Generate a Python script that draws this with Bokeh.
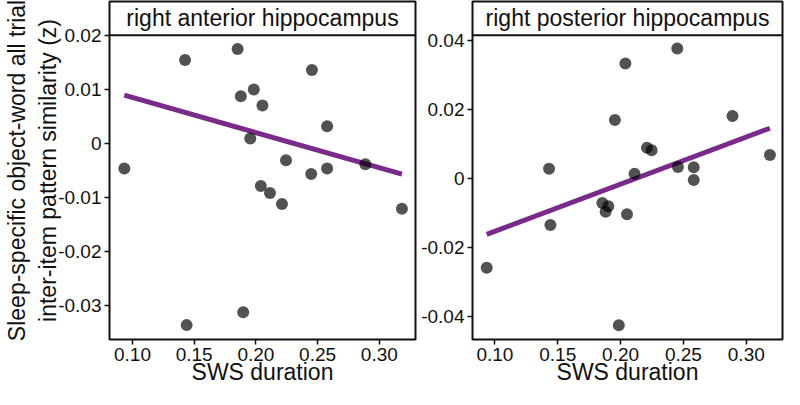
from bokeh.plotting import figure
from bokeh.layouts import row
from bokeh.models import FixedTicker, Span, Label, Range1d
from bokeh.embed import file_html
from bokeh.resources import INLINE

# ---------------- data ----------------
ant_sws = [0.0934, 0.1426, 0.1439, 0.1852, 0.1878, 0.1897, 0.1954, 0.1983, 0.2040, 0.2053,
           0.2114, 0.2211, 0.2244, 0.2448, 0.2454, 0.2577, 0.2577, 0.2887, 0.3183]
ant_sim = [-0.00466, 0.0154, -0.03364, 0.01744, 0.00871, -0.03125, 0.0009, 0.00997, -0.00789, 0.00699,
           -0.00918, -0.01124, -0.00312, -0.00568, 0.01355, 0.00315, -0.00466, -0.00389, -0.01213]
ant_fit_x = [0.0934, 0.3183]
ant_fit_y = [0.0089, -0.0057]

post_sws = [0.0935, 0.1431, 0.1442, 0.1855, 0.1881, 0.1902, 0.1955, 0.1986, 0.2038, 0.2051,
            0.2111, 0.2210, 0.2247, 0.2451, 0.2456, 0.2582, 0.2582, 0.2890, 0.3188]
post_sim = [-0.02588, 0.00281, -0.0135, -0.00712, -0.00965, -0.00805, 0.01688, -0.04248, 0.03319, -0.01041,
            0.00132, 0.00883, 0.00816, 0.03752, 0.00329, 0.00321, -0.00045, 0.0180, 0.00675]
post_fit_x = [0.0935, 0.3188]
post_fit_y = [-0.0162, 0.0145]

x_ticks = [0.10, 0.15, 0.20, 0.25, 0.30]
x_tick_labels = ["0.10", "0.15", "0.20", "0.25", "0.30"]
ant_y_ticks = [-0.03, -0.02, -0.01, 0.0, 0.01, 0.02]
ant_y_labels = ["-0.03", "-0.02", "-0.01", "0", "0.01", "0.02"]
post_y_ticks = [-0.04, -0.02, 0.0, 0.02, 0.04]
post_y_labels = ["-0.04", "-0.02", "0", "0.02", "0.04"]

titles = ["right anterior hippocampus", "right posterior hippocampus"]
x_label = "SWS duration"
y_label_lines = ["Sleep-specific object-word all trial", "inter-item pattern similarity (z)"]

FONT = "Liberation Sans"
PURPLE = "#792A8A"
INK = "#111111"
H = 389
W1, W2 = 418, 366
MB_TOP, MB_BOTTOM = 1, 50
EXPECTED_BOTTOM = 57     # bottom border Bokeh uses for ticks + x title
STRIP_PX = 33


def panel(width, mbl, mbr, xr, yr, xs, ys, fx, fy, yt, yl, title, ylab_lines):
    frame_h = H - MB_TOP - EXPECTED_BOTTOM
    plot_px = frame_h - STRIP_PX
    y0, y1 = yr
    strip = (y1 - y0) / plot_px * STRIP_PX
    p = figure(width=width, height=H, x_range=Range1d(*xr), y_range=Range1d(y0, y1 + strip),
               output_backend="svg", toolbar_location=None, title=None,
               min_border_left=mbl, min_border_right=mbr,
               min_border_top=MB_TOP, min_border_bottom=MB_BOTTOM)
    p.background_fill_color = "white"
    p.border_fill_color = "white"
    p.outline_line_color = INK
    p.outline_line_width = 2
    p.grid.visible = False

    p.line(fx, fy, line_color=PURPLE, line_width=5)
    p.scatter(xs, ys, size=12, fill_color="black", fill_alpha=0.68, line_color=None)

    # facet strip
    p.add_layout(Span(location=y1, dimension="width", line_color=INK, line_width=2))
    p.add_layout(Label(x=(xr[0] + xr[1]) / 2, y=y1 + strip / 2, text=title,
                       text_align="center", text_baseline="middle",
                       text_font=FONT, text_font_size="23px", text_color=INK))

    p.xaxis.ticker = FixedTicker(ticks=x_ticks)
    p.xaxis.major_label_overrides = {t: l for t, l in zip(x_ticks, x_tick_labels)}
    p.yaxis.ticker = FixedTicker(ticks=yt)
    p.yaxis.major_label_overrides = {t: l for t, l in zip(yt, yl)}
    p.xaxis.axis_label = x_label
    p.xaxis.axis_label_standoff = -5
    if ylab_lines:
        p.yaxis.axis_label = "\n".join(ylab_lines)
        p.yaxis.axis_label_standoff = -6
    for ax in (p.xaxis[0], p.yaxis[0]):
        ax.axis_line_color = None
        ax.major_tick_line_color = INK
        ax.major_tick_line_width = 1.5
        ax.major_tick_in = 0
        ax.major_tick_out = 5
        ax.minor_tick_line_color = None
        ax.major_label_text_font = FONT
        ax.major_label_text_font_size = "19px"
        ax.major_label_text_color = INK
        ax.major_label_standoff = 3
        ax.axis_label_text_font = FONT
        ax.axis_label_text_font_size = "23px"
        ax.axis_label_text_font_style = "normal"
        ax.axis_label_text_color = INK
    return p


p1 = panel(W1, 99, 3, (0.0814, 0.3293), (-0.0363, 0.02), ant_sws, ant_sim,
           ant_fit_x, ant_fit_y, ant_y_ticks, ant_y_labels, titles[0], y_label_lines)
p2 = panel(W2, 54, 2, (0.0822, 0.3288), (-0.0466, 0.0414), post_sws, post_sim,
           post_fit_x, post_fit_y, post_y_ticks, post_y_labels, titles[1], None)

layout = row(p1, p2)
open("out.html", "w").write(file_html(layout, INLINE))
